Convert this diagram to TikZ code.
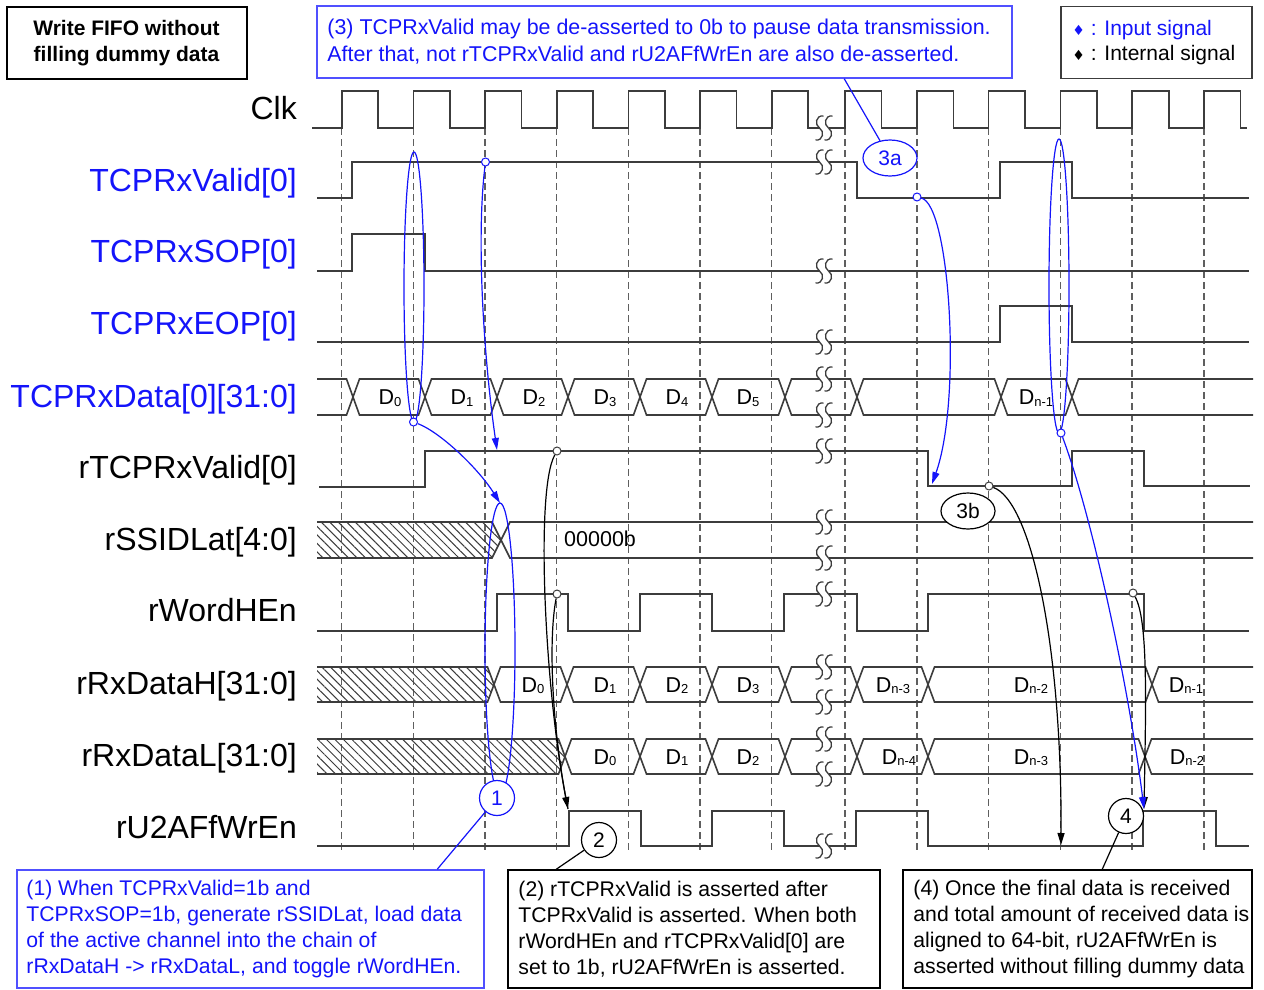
\documentclass[tikz,border=0pt]{standalone}
\usepackage{fontspec}
\setmainfont{Liberation Sans}
\newfontfamily\symbfont{DejaVu Sans}
\usepackage{tikz}
\usetikzlibrary{arrows.meta,patterns.meta,shapes.geometric,positioning,calc}
\definecolor{sigBlue}{RGB}{20,20,250}
\definecolor{noteBlue}{RGB}{80,80,255}
\definecolor{waveGray}{RGB}{60,60,60}
\definecolor{gridGray}{RGB}{95,95,95}

% data word with subscript
\newcommand\dat[1]{D\raisebox{-1.5pt}{\fontsize{13}{13}\selectfont #1}}
% one S of the break mark
\newcommand\sshape[2]{\draw[wave,line width=1.3pt] ({#1+4},{#2-12}) .. controls ({#1-4},{#2-13}) and ({#1-5},{#2-3}) .. (#1,#2) .. controls ({#1+5},{#2+3}) and ({#1+4},{#2+13}) .. ({#1-4},{#2+12});}
% time break on a signal line
\newcommand\sigbreak[2]{\fill[white] ({#1-4.5},{#2-3}) rectangle ({#1+4.5},{#2+3});
  \sshape{#1-4.5}{#2}\sshape{#1+4.5}{#2}}

\begin{document}
\begin{tikzpicture}[x=1pt,y=-1pt,
  wave/.style={draw=waveGray, line width=1.6pt},
  gridline/.style={gridGray, line width=1.5pt, dash pattern=on 7pt off 4pt},
  siglbl/.style={anchor=east, inner sep=0pt, text height=23pt, text depth=0pt,
                 font=\fontsize{32}{35}\selectfont},
  datlbl/.style={inner sep=0pt, text height=15pt, text depth=0pt,
                 font=\fontsize{21.5}{24}\selectfont},
  hatch/.style={pattern={Lines[angle=-45,distance=6pt,line width=1pt]},
                pattern color=waveGray},
  dotmark/.style={circle, draw=waveGray, fill=white, inner sep=0pt,
                  minimum size=8pt, line width=1pt},
  tagmark/.style={circle, draw=black, fill=white, inner sep=0pt, minimum size=35pt,
                  line width=1.2pt, font=\fontsize{21}{24}\selectfont},
  tagoval/.style={ellipse, draw=black, fill=white, inner sep=0pt, minimum width=54pt,
                  minimum height=36pt, line width=1.2pt, font=\fontsize{21}{24}\selectfont},
  notebox/.style={draw=black, line width=1.5pt, minimum height=118pt},
  notetxt/.style={anchor=west, align=left, inner sep=0pt, font=\fontsize{21.2}{26}\selectfont},
  bluearrow/.style={-{Triangle[length=12pt,width=7pt]}, sigBlue, line width=1.2pt},
  blackarrow/.style={-{Triangle[length=12pt,width=7pt]}, black, line width=1.2pt},
  loopline/.style={sigBlue, line width=1.2pt}]

  \useasboundingbox (0,0) rectangle (1264,990);

  % clock edges
  \foreach \x in {341.7,413.3,485,556.7,628.3,700,771.7,845,916.8,988.6,1060.4,1132.2,1204}
    \draw[gridline] (\x,128) -- (\x,852);

  % signal names
  \node[siglbl] (lClk) at (297,108) {Clk};
  \node[siglbl,text=sigBlue] (lValid) at (297,180) {TCPRxValid[0]};
  \node[siglbl,text=sigBlue] (lSOP) at (297,251) {TCPRxSOP[0]};
  \node[siglbl,text=sigBlue] (lEOP) at (297,323) {TCPRxEOP[0]};
  \node[siglbl,text=sigBlue] (lData) at (297,396) {TCPRxData[0][31:0]};
  \node[siglbl] (lRValid) at (297,467) {rTCPRxValid[0]};
  \node[siglbl] (lSSID) at (297,539) {rSSIDLat[4:0]};
  \node[siglbl] (lWordH) at (297,610) {rWordHEn};
  \node[siglbl] (lDataH) at (297,683) {rRxDataH[31:0]};
  \node[siglbl] (lDataL) at (297,755) {rRxDataL[31:0]};
  \node[siglbl] (lWrEn) at (297,827) {rU2AFfWrEn};

  % Clk
  \draw[wave] (312,128)
    foreach \r in {341.7,413.3,485,556.7,628.3,700,771.7,845,916.8,988.6,1060.4,1132.2,1204}
    { -- (\r,128) -- (\r,91) -- (\r+36.5,91) -- (\r+36.5,128) } -- (1247,128);

  % single-bit signals
  \draw[wave] (317,198) -- (352,198) -- (352,162) -- (857,162) -- (857,198) -- (1000,198)
    -- (1000,162) -- (1072,162) -- (1072,198) -- (1249,198);
  \draw[wave] (317,271) -- (352,271) -- (352,234) -- (425,234) -- (425,271) -- (1249,271);
  \draw[wave] (317,342) -- (1000,342) -- (1000,306) -- (1072,306) -- (1072,342) -- (1249,342);
  \draw[wave] (319,487) -- (425,487) -- (425,451) -- (928,451) -- (928,486) -- (1072,486)
    -- (1072,451) -- (1144,451) -- (1144,486) -- (1250,486);
  \draw[wave] (317,631) -- (497,631) -- (497,594) -- (568,594) -- (568,631) -- (640,631)
    -- (640,594) -- (712,594) -- (712,631) -- (784,631) -- (784,594) -- (857,594)
    -- (857,631) -- (928,631) -- (928,594) -- (1144,594) -- (1144,631) -- (1249,631);
  \draw[wave] (317,846) -- (569,846) -- (569,811) -- (641,811) -- (641,846) -- (712,846)
    -- (712,811) -- (784,811) -- (784,846) -- (856,846) -- (856,811) -- (928,811)
    -- (928,846) -- (1143,846) -- (1143,811) -- (1216,811) -- (1216,846) -- (1249,846);

  % TCPRxData[0][31:0]
  \draw[wave] (317,379) -- (346.5,379) -- (353,397) -- (346.5,415) -- (317,415);
  \foreach \a/\b in {353/425,425/497,497/568,568/640,640/712,712/785,785/857,857/1001,1001/1072}
    \draw[wave] (\a,397) -- (\a+6.5,379) -- (\b-6.5,379) -- (\b,397) -- (\b-6.5,415)
      -- (\a+6.5,415) -- cycle;
  \draw[wave] (1253,379) -- (1078.5,379) -- (1072,397) -- (1078.5,415) -- (1253,415);
  \foreach \x/\s in {390/0,462/1,534/2,605/3,677/4,748/5}
    \node[datlbl] (dA\s) at (\x,397) {\dat{\s}};
  \node[datlbl] (dAn1) at (1036,397) {\dat{n-1}};

  % rSSIDLat[4:0]
  \path[hatch] (317,522) -- (492,522) -- (501,540) -- (492,558) -- (317,558) -- cycle;
  \draw[wave] (317,522) -- (492,522) -- (501,540) -- (492,558) -- (317,558);
  \draw[wave] (1253,522) -- (510,522) -- (501,540) -- (510,558) -- (1253,558);
  \node[datlbl,anchor=west] (dSSID) at (564,539) {00000b};

  % rRxDataH[31:0]
  \path[hatch] (317,667) -- (487.5,667) -- (494,684.5) -- (487.5,702) -- (317,702) -- cycle;
  \draw[wave] (317,667) -- (487.5,667) -- (494,684.5) -- (487.5,702) -- (317,702);
  \foreach \a/\b in {494/567,567/640,640/712,712/785,785/857,857/928,928/1152}
    \draw[wave] (\a,684.5) -- (\a+6.5,667) -- (\b-6.5,667) -- (\b,684.5) -- (\b-6.5,702)
      -- (\a+6.5,702) -- cycle;
  \draw[wave] (1253,667) -- (1158.5,667) -- (1152,684.5) -- (1158.5,702) -- (1253,702);
  \foreach \x/\s in {533/0,605/1,677/2,748/3}
    \node[datlbl] (dH\s) at (\x,684.5) {\dat{\s}};
  \node[datlbl] (dHn3) at (893,684.5) {\dat{n-3}};
  \node[datlbl] (dHn2) at (1031,684.5) {\dat{n-2}};
  \node[datlbl] (dHn1) at (1186,684.5) {\dat{n-1}};

  % rRxDataL[31:0]
  \path[hatch] (317,739) -- (558.5,739) -- (565,756.5) -- (558.5,774) -- (317,774) -- cycle;
  \draw[wave] (317,739) -- (558.5,739) -- (565,756.5) -- (558.5,774) -- (317,774);
  \foreach \a/\b in {565/640,640/712,712/785,785/857,857/928,928/1145}
    \draw[wave] (\a,756.5) -- (\a+6.5,739) -- (\b-6.5,739) -- (\b,756.5) -- (\b-6.5,774)
      -- (\a+6.5,774) -- cycle;
  \draw[wave] (1253,739) -- (1151.5,739) -- (1145,756.5) -- (1151.5,774) -- (1253,774);
  \foreach \x/\s in {605/0,677/1,748/2}
    \node[datlbl] (dL\s) at (\x,756.5) {\dat{\s}};
  \node[datlbl] (dLn4) at (899,756.5) {\dat{n-4}};
  \node[datlbl] (dLn3) at (1031,756.5) {\dat{n-3}};
  \node[datlbl] (dLn2) at (1187,756.5) {\dat{n-2}};

  % time break
  \foreach \y in {128,162,271,342,379,415,451,522,558,594,667,702,739,774,846}
    {\sigbreak{824}{\y}}

  % annotation loops
  \draw[loopline] (414,287) ellipse [x radius=10pt, y radius=135pt];
  \draw[loopline] (500,649) ellipse [x radius=15pt, y radius=146pt];
  \draw[loopline] (1059,286) ellipse [x radius=10pt, y radius=147pt];

  % sampling points
  \node[dotmark,draw=sigBlue] (vA) at (485.5,162) {};
  \node[dotmark,draw=sigBlue] (vB) at (413.5,422) {};
  \node[dotmark,draw=sigBlue] (vC) at (917,197) {};
  \node[dotmark,draw=sigBlue] (vD) at (1061,433) {};
  \node[dotmark] (kA) at (557,451) {};
  \node[dotmark] (kB) at (557,594) {};
  \node[dotmark] (kC) at (989,486) {};
  \node[dotmark] (kD) at (1133,593) {};

  \coordinate (tSSID) at (500,503);
  \coordinate (tRValid) at (497,450);
  \coordinate (tRValidLo) at (932,484);
  \coordinate (tWrEnA) at (568,809);
  \coordinate (tWrEnC) at (1061,845);
  \coordinate (tWrEnD) at (1144,809);

  \draw[bluearrow] (vB) .. controls (440,432) and (478,468) .. (tSSID);
  \draw[bluearrow] (vA) .. controls (476,240) and (484,360) .. (tRValid);
  \draw[bluearrow] (vC) .. controls (950,205) and (962,400) .. (tRValidLo);
  \draw[blackarrow] (kA) .. controls (535,490) and (545,690) .. (tWrEnA);
  \draw[black,line width=1.2pt] (kB) .. controls (548,640) and (552,730) .. (tWrEnA);
  \draw[blackarrow] (kC) .. controls (1030,500) and (1062,640) .. (tWrEnC);
  \draw[blackarrow] (kD) .. controls (1148,620) and (1146,700) .. (tWrEnD);
  \draw[bluearrow] (vD) .. controls (1090,510) and (1128,680) .. (tWrEnD);

  % step tags
  \node[tagmark,draw=sigBlue,text=sigBlue] (tag1) at (497,798) {1};
  \node[tagmark] (tag2) at (599,840) {2};
  \node[tagmark] (tag4) at (1126,816) {4};
  \node[tagoval,draw=sigBlue,text=sigBlue] (tag3a) at (890,158) {3a};
  \node[tagoval] (tag3b) at (968,511) {3b};

  % title and legend
  \node[draw=black, line width=2pt, minimum width=240pt, minimum height=72pt, align=center,
        font=\bfseries\fontsize{21}{26}\selectfont] (title) at (126.5,43)
    {Write FIFO without\\filling dummy data};
  \node[draw=waveGray, line width=1.5pt, minimum width=191pt, minimum height=72pt]
    (legend) at (1156.5,42.5) {};
  \node[notetxt,font=\fontsize{21}{25}\selectfont] (legendtxt) at ([xshift=12pt]legend.west)
    {{\color{sigBlue}{\symbfont\fontsize{14}{14}\selectfont ♦} : Input signal}\\
     {\symbfont\fontsize{14}{14}\selectfont ♦} : Internal signal};

  % notes
  \node[notebox,draw=noteBlue,minimum width=695pt,minimum height=72pt] (note3) at (664.5,42) {};
  \node[notetxt,text=sigBlue,font=\fontsize{21.4}{27}\selectfont] (note3txt)
    at ([xshift=11pt]note3.west)
    {(3) TCPRxValid may be de-asserted to 0b to pause data transmission.\\
     After that, not rTCPRxValid and rU2AFfWrEn are also de-asserted.};
  \node[notebox,draw=noteBlue,minimum width=467pt] (note1) at (250.5,929) {};
  \node[notetxt,text=sigBlue] (note1txt) at ([xshift=10pt]note1.west)
    {(1) When TCPRxValid=1b and\\
     TCPRxSOP=1b, generate rSSIDLat, load data\\
     of the active channel into the chain of\\
     rRxDataH -> rRxDataL, and toggle rWordHEn.};
  \node[notebox,minimum width=372pt] (note2) at (694,929) {};
  \node[notetxt] (note2txt) at ([xshift=11pt]note2.west)
    {(2) rTCPRxValid is asserted after\\
     TCPRxValid is asserted. When both\\
     rWordHEn and rTCPRxValid[0] are\\
     set to 1b, rU2AFfWrEn is asserted.};
  \node[notebox,minimum width=349pt] (note4) at (1077.5,929) {};
  \node[notetxt] (note4txt) at ([xshift=11pt]note4.west)
    {(4) Once the final data is received\\
     and total amount of received data is\\
     aligned to 64-bit, rU2AFfWrEn is\\
     asserted without filling dummy data};

  % leaders from tags to notes
  \draw[sigBlue,line width=1.2pt] (tag1) -- ([xshift=421pt]note1.north west);
  \draw[black,line width=1.2pt] (tag2) -- ([xshift=49pt]note2.north west);
  \draw[black,line width=1.2pt] (tag4) -- ([xshift=200pt]note4.north west);
  \draw[sigBlue,line width=1.2pt] ([xshift=528pt]note3.south west) -- (tag3a);
\end{tikzpicture}
\end{document}
